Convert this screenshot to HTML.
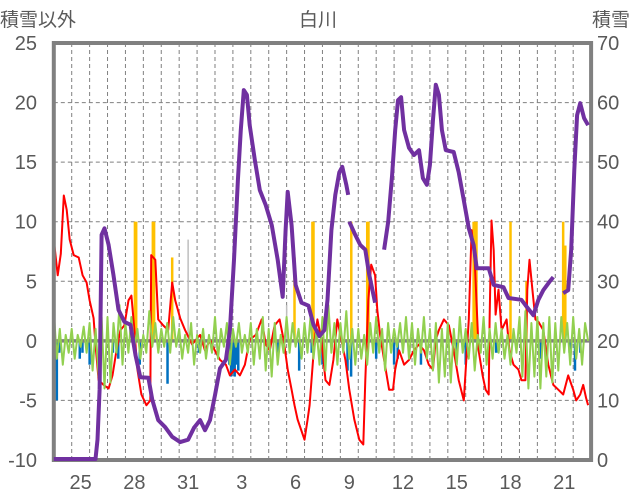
<!DOCTYPE html>
<html><head><meta charset="utf-8"><style>
html,body{margin:0;padding:0;background:#fff;}
svg{display:block;font-family:"Liberation Sans","Noto Sans CJK JP",sans-serif;}
</style></head><body>
<svg id="chart" width="636" height="501" viewBox="0 0 636 501">
<text x="38" y="26" text-anchor="middle" font-size="19" fill="#595959">積雪以外</text>
<text x="318" y="26" text-anchor="middle" font-size="19" fill="#595959">白川</text>
<text x="611" y="26" text-anchor="middle" font-size="19" fill="#595959">積雪</text>
<g id="grid"></g>
<g id="bars"></g>
<g id="lines"></g>
<g id="axes"></g>
<g id="snowg"></g>
</svg>
<script>
// ---- data (time in days from the 24th 00:00) ----
const dayLabels = ["25","28","31","3","6","9","12","15","18","21"];
const dayLabelIdx = [1,4,7,10,13,16,19,22,25,28];
const leftTicks = [25,20,15,10,5,0,-5,-10];
const rightTicks = [70,60,50,40,30,20,10,0];

const snowT = [0,2.33,2.44,2.56,2.67,2.83,3.06,3.33,3.61,3.94,4.28,4.56,4.83,5.28,5.5,5.83,6.22,6.61,7.06,7.5,7.83,8.17,8.44,8.72,9.0,9.28,9.61,9.83,10.06,10.28,10.44,10.61,10.78,10.94,11.22,11.5,11.83,12.17,12.5,12.78,12.94,13.06,13.28,13.5,13.83,14.22,14.5,14.83,15.11,15.28,15.5,15.72,15.94,16.11,16.33,16.44,16.47,16.5,16.83,17.11,17.39,17.61,17.94,18.2,18.44,18.67,18.89,19.06,19.22,19.39,19.56,19.83,20.11,20.39,20.61,20.83,21.0,21.17,21.33,21.5,21.67,21.89,22.33,22.61,22.89,23.17,23.44,23.61,24.28,24.56,25.11,25.39,26.11,26.33,26.78,27.06,27.33,27.67,27.89,28.1,28.44,28.72,28.89,29.06,29.22,29.39,29.61,29.83];
const snowV = [0,0,3.4,11.8,37.8,38.9,36.1,31.1,25.2,23.2,22.7,17.6,13.9,13.8,10.1,6.7,5.5,3.9,3.0,3.4,5.4,6.7,5.0,6.7,10.9,15.4,16.8,21.8,33.6,47,55.4,62.1,61.3,56.2,50.4,45.3,42.8,39.4,33.6,27.4,38.6,45,39.4,29.4,26.4,25.9,22.7,20.8,21.8,26.9,38.6,44.5,48.3,49.2,46.2,44.5,null,40,37.8,36.1,35.3,31.1,26.4,null,35.3,40,47.8,55.4,60.4,60.9,55.4,52.4,51.2,52,47.3,46.2,49.5,57.1,63,61.3,55.4,52,51.7,48.3,43.6,38.9,36.1,32.2,32.2,29.4,29,27.2,26.9,26,24.3,26.9,28.5,29.9,30.7,null,28,28.5,35.3,48.7,57.9,59.9,57.4,56.2];

const tempT = [0,.22,.39,.56,.72,.89,1.11,1.39,1.61,1.83,2.0,2.22,2.33,2.5,2.78,3.06,3.28,3.5,3.72,3.94,4.17,4.33,4.5,4.67,4.89,5.17,5.39,5.44,5.67,5.83,6.11,6.39,6.61,6.78,7.06,7.33,7.72,8.17,8.44,8.72,8.99,9.28,9.61,9.83,10.11,10.39,10.67,10.94,11.28,11.61,11.83,12.06,12.33,12.61,12.83,13.06,13.28,13.44,13.61,14.0,14.17,14.28,14.56,14.72,14.94,15.17,15.39,15.61,15.83,16.06,16.28,16.5,16.78,17.06,17.28,17.39,17.56,17.72,17.94,18.06,18.22,18.44,18.72,18.94,19.06,19.28,19.56,19.83,20.11,20.39,20.67,20.94,21.17,21.33,21.5,21.78,22.06,22.33,22.61,22.89,23.17,23.33,23.5,23.72,23.94,24.11,24.28,24.33,24.44,24.56,24.67,24.83,25,25.28,25.44,25.67,25.94,26.11,26.33,26.44,26.56,26.72,26.89,27.06,27.33,27.61,27.89,28.17,28.44,28.72,29.0,29.17,29.39,29.56,29.72,29.83];
const tempV = [8.5,5.5,7.3,12.2,11,8.5,7.2,7,5.5,4.9,3.4,1.9,-0.3,-3.3,-3.7,-4,-2.9,-0.8,0.9,1.3,3.4,3.8,0.9,-2.4,-4.5,-5.4,-5,7.2,6.8,1.8,1.3,0.9,4.9,3.4,1.9,0.9,-0.3,0.5,-0.8,0.1,-0.8,-1.6,-2,-2.9,-2.4,-2.9,-2,0.1,0.5,1.8,-0.3,-0.8,1.3,1.8,0.1,-2.4,-4.1,-5.4,-6.6,-8.3,-6.6,-5.4,0.1,1.8,0.1,-3.3,-3.7,-1.6,1.8,0.1,-1.6,-4.1,-6.6,-8.3,-8.7,-3.3,3.4,6.4,5.5,2.6,0.5,-1.6,-4.1,-4.1,-2.4,-0.8,-2,-1.6,-0.8,-0.3,-0.8,-2,-2.4,0.1,0.9,1.8,1.3,-0.8,-3.3,-5,1.8,9.3,6.8,-0.8,-2.9,-4.1,-4.5,1.8,10.1,7.6,2.2,4.3,0.9,1.8,-0.8,-2,-2.4,-3.3,-3.3,4.3,6.8,4.3,1.8,1.6,0.9,-2,-3.7,-4.1,-4.5,-2.9,-4.1,-5,-4.5,-3.7,-4.8,-5.4];

// green: six readings per day
const changeV = [2.5,-1.5,1,-2,0.5,-1, 1,-1.5,0.5,-0.5,1.2,-1, 1.5,-2.5,1,-3,2,-4, 2,-3.5,1.5,-1,3,-2, 1.5,-1,2,-0.5,1,-1.5, 0.5,-1,2.5,-0.5,1.5,-1, 1,-0.5,1.5,-1,2,-0.5, 1,-1.5,0.5,-1,1.5,-2, 0.5,-1,1,-1.5,0.5,-1, 2,-1.5,1,-0.5,1.5,-2, 1,-0.5,1.5,-1,0.5,-1, 1.5,-2,1,-1.5,2,-2.5, 1,-3,1.5,-2,0.5,-1, 2,-1,1.5,-0.5,1,-1.5, 1.5,-1,2,-1.5,1,-2, 2,-2.5,3,-1,1.5,-2, 1.5,-1,2.5,-1.5,1,-2, 1,-1.5,0.5,-2,1.5,-1, 2,-1,1,-2.5,1.5,-1, 1,-0.5,1.5,-1,2,-1.5, 1.5,-2,1,-1,2,-1.5, 1,-2.5,1.5,-3.5,1,-3, 1.5,-3.5,1,-2,2,-1, 1,-1.5,1.5,-2.5,0.5,-1, 2,-2,1,-1.5,1.5,-1, 1,-1.5,0.5,-2,1,-1, 2,-3,2.5,-4,1.5,-3, 2,-4,1.5,-3,2,-3.5, 1.5,-2.5,2,-1,1.5,-2, 2,-1.5,1,-2,1.5,0];

const precipT = [4.53,4.6,5.53,5.6,6.61,13.44,14.44,14.5,16.61,17.5,17.57,23.44,23.53,23.6,25.5,26.39,28.44,28.56];
const precipV = [10,10,10,10,7,7,10,10,10,10,10,10,10,10,10,5,10,8];
const grayT = [7.5,13.0];
const grayV = [8.5,3];

const meltT = [0.08,0.17,0.3,1.45,1.6,2.0,2.7,3.3,3.6,4.8,6.35,8.1,9.8,9.9,10.0,10.1,10.2,10.3,12.5,13.7,14.4,15.0,16.4,16.6,18.0,19.0,19.2,20.5,22.5,23.0,24.7,27.2,28.8,29.1,29.4];
const meltV = [-2.5,-5,-1,-1.5,-1,-2,-0.5,-1,-1.5,-2,-3.6,-1,-2,-3,-2.5,-3,-2,-2.5,-1,-2.5,-1,-2,-2.5,-3,-1.5,-2,-1.5,-2,-1,-2,-1,-1.5,-1,-2.5,-1];

// ---- axes ----
const X0=53.8, DX=17.91, Y0=43, Y1=460;
function xs(t){return X0+t*DX;}
function yl(v){return Y1-(v+10)/35*(Y1-Y0);}
function yr(v){return Y1-v/70*(Y1-Y0);}
const NS="http://www.w3.org/2000/svg";
function mk(tag,attrs,parent){const e=document.createElementNS(NS,tag);for(const k in attrs)e.setAttribute(k,attrs[k]);parent.appendChild(e);return e;}
const gridG=document.getElementById('grid'),barsG=document.getElementById('bars'),linesG=document.getElementById('lines'),axesG=document.getElementById('axes'),topG=document.getElementById('snowg');

for(let k=1;k<30;k++){
  const l=mk('line',{x1:xs(k),x2:xs(k),y1:Y0,y2:Y1,stroke:'#808080','stroke-width':1,'stroke-dasharray':'4,3'},gridG);
  
  
}
[20,15,10,5,-5].forEach(v=>{
  const l=mk('line',{x1:X0,x2:xs(30),y1:yl(v),y2:yl(v),stroke:'#808080','stroke-width':1,'stroke-dasharray':'4,3'},gridG);
  
  
});

function bar(t,v,color,w,name){
  const y=Math.min(yl(0),yl(v)),h=Math.abs(yl(v)-yl(0));
  const r=mk('rect',{x:xs(t)-w/2,y:y,width:w,height:h,fill:color},barsG);
  
  
}
grayT.forEach((t,i)=>bar(t,grayV[i],'#bfbfbf',1.5,'gray-bar'));
precipT.forEach((t,i)=>bar(t,precipV[i],'#ffc000',2.5,'precip-bar'));
meltT.forEach((t,i)=>bar(t,meltV[i],'#0070c0',2.5,'blue-bar'));

const zl=mk('line',{x1:X0,x2:xs(30),y1:yl(0),y2:yl(0),stroke:'#808080','stroke-width':3.5},linesG);



function pathFrom(T,V,yf){
  let d='',pen=false;
  for(let i=0;i<T.length;i++){
    if(V[i]===null){pen=false;continue;}
    d+=(pen?'L':'M')+xs(T[i]).toFixed(1)+','+yf(V[i]).toFixed(1);pen=true;
  }
  return d;
}
const red=mk('path',{d:pathFrom(tempT,tempV,yl),fill:'none',stroke:'#ff0000','stroke-width':2,'stroke-linejoin':'round'},linesG);


const changeT=changeV.map((_,i)=>i/6);
const green=mk('path',{d:pathFrom(changeT,changeV,yl),fill:'none',stroke:'#92d050','stroke-width':2,'stroke-linejoin':'round'},linesG);



const frame=mk('rect',{x:X0,y:Y0,width:xs(30)-X0,height:Y1-Y0,fill:'none',stroke:'#808080','stroke-width':4},axesG);



const purple=mk('path',{d:pathFrom(snowT,snowV,v=>Math.min(yr(v),Y1-1)),fill:'none',stroke:'#7030a0','stroke-width':4,'stroke-linejoin':'round'},topG);



leftTicks.forEach(v=>{
  const t=mk('text',{x:37,y:yl(v)+7,'text-anchor':'end','font-size':20,fill:'#595959'},axesG);
  t.textContent=v;
  
  
});
rightTicks.forEach(v=>{
  const t=mk('text',{x:597,y:yr(v)+7,'text-anchor':'start','font-size':20,fill:'#595959'},axesG);
  t.textContent=v;
  
  
});
dayLabels.forEach((s,i)=>{
  const t=mk('text',{x:xs(dayLabelIdx[i]+0.5),y:489,'text-anchor':'middle','font-size':20,fill:'#595959'},axesG);
  t.textContent=s;
  
  
});
</script>
</body></html>
